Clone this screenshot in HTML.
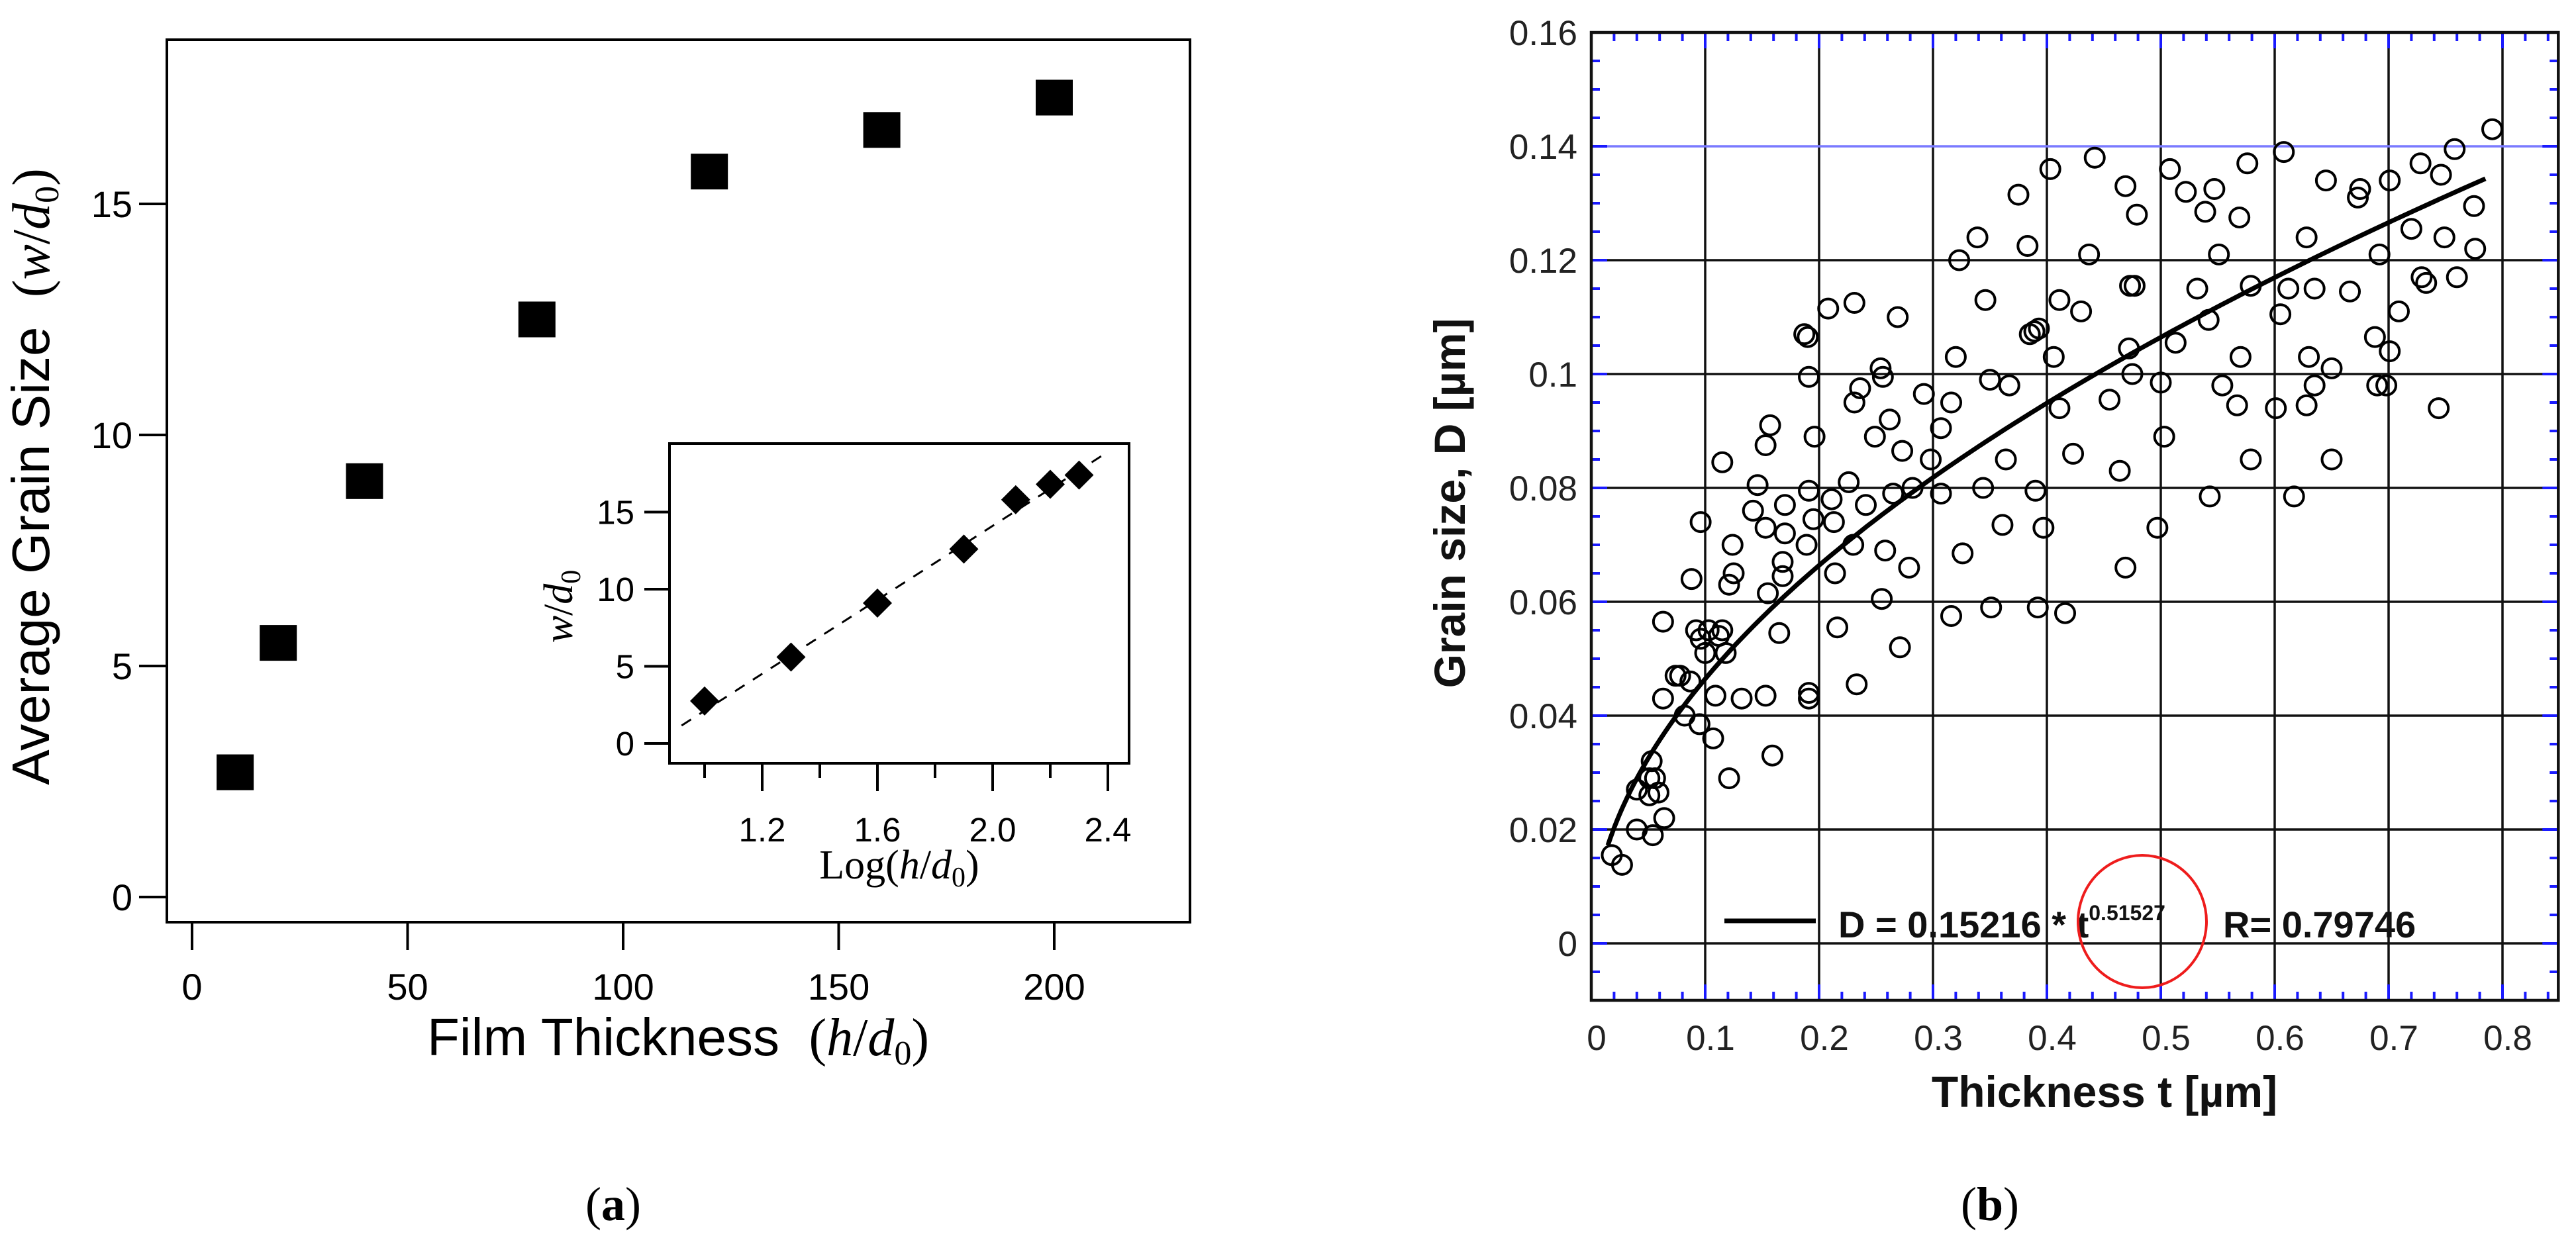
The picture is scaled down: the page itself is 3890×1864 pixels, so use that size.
<!DOCTYPE html>
<html><head><meta charset="utf-8"><style>
html,body{margin:0;padding:0;background:#fff;}
svg{display:block;}
</style></head><body>
<svg id="fig" width="3890" height="1864" viewBox="0 0 3890 1864" xmlns="http://www.w3.org/2000/svg">
<g id="panelA"></g>
<g id="inset"></g>
<g id="panelB"></g>
<text x="926" y="1843" text-anchor="middle" font-family="Liberation Serif, serif" font-size="72">(<tspan font-weight="bold">a</tspan>)</text>
<text x="3005" y="1843" text-anchor="middle" font-family="Liberation Serif, serif" font-size="72">(<tspan font-weight="bold">b</tspan>)</text>
</svg>
<script>
// ---------- Panel A data ----------
const aThickness = [10, 20, 40, 80, 120, 160, 200];
const aGrain = [2.7, 5.5, 9.0, 12.5, 15.7, 16.6, 17.3];
const aXTicks = [0, 50, 100, 150, 200];
const aYTicks = [0, 5, 10, 15];
// Inset
const inLog = [1.0, 1.3, 1.6, 1.9, 2.08, 2.2, 2.3];
const inGrain = [2.75, 5.6, 9.1, 12.6, 15.8, 16.8, 17.4];
const inXTicks = [1.0, 1.2, 1.4, 1.6, 1.8, 2.0, 2.2, 2.4];
const inXLabels = ['', '1.2', '', '1.6', '', '2.0', '', '2.4'];
const inYTicks = [0, 5, 10, 15];
const inFitX = [0.92, 2.4];
const inFitY = [1.16, 18.9];
// ---------- Panel B data ----------
const bXTicks = [0, 0.1, 0.2, 0.3, 0.4, 0.5, 0.6, 0.7, 0.8];
const bXLabels = ['0', '0.1', '0.2', '0.3', '0.4', '0.5', '0.6', '0.7', '0.8'];
const bYTicks = [0, 0.02, 0.04, 0.06, 0.08, 0.1, 0.12, 0.14, 0.16];
const bYLabels = ['0', '0.02', '0.04', '0.06', '0.08', '0.1', '0.12', '0.14', '0.16'];
const fitCoef = 0.15216;
const fitExp = 0.51527;
const fitRange = [0.0146, 0.785];
const bT = [.018,.027,.040,.040,.051,.053,.056,.059,.051,.054,.064,.063,.063,.074,.078,.082,.087,.088,.096,.092,.096,.100,.095,.103,.107,.109,.112,.115,.118,.121,.121,.124,.125,.115,.132,.142,.146,.153,.153,.157,.155,.153,.159,.165,.168,.170,.170,.168,.187,.190,.191,.189,.191,.195,.196,.191,.191,.208,.211,.213,.214,.216,.226,.230,.231,.231,.236,.233,.241,.249,.254,.256,.258,.255,.262,.265,.269,.273,.271,.279,.282,.292,.298,.307,.307,.316,.316,.320,.323,.326,.339,.344,.346,.350,.351,.361,.364,.367,.375,.383,.385,.389,.393,.390,.392,.397,.403,.406,.411,.411,.416,.423,.430,.437,.442,.455,.464,.469,.469,.472,.473,.477,.475,.479,.497,.500,.503,.508,.513,.522,.532,.539,.542,.543,.547,.551,.554,.567,.569,.570,.576,.579,.579,.601,.605,.608,.612,.617,.628,.628,.630,.635,.635,.645,.650,.650,.666,.673,.675,.688,.690,.692,.698,.701,.701,.709,.720,.728,.729,.733,.744,.746,.749,.758,.760,.775,.776,.791];
const bD = [.0155,.0138,.020,.027,.029,.032,.029,.0265,.026,.019,.022,.043,.0565,.047,.047,.040,.046,.064,.074,.055,.0535,.051,.0385,.055,.036,.0435,.054,.055,.051,.063,.029,.070,.065,.0845,.043,.076,.0805,.073,.0875,.091,.0615,.0435,.033,.0545,.067,.072,.077,.0645,.107,.1065,.0995,.070,.0795,.0745,.089,.044,.043,.1115,.078,.074,.065,.0555,.081,.070,.1125,.095,.0975,.0455,.077,.089,.101,.0995,.069,.0605,.092,.079,.110,.0865,.052,.066,.080,.0965,.085,.0905,.079,.095,.0575,.103,.120,.0685,.124,.080,.113,.099,.059,.0735,.085,.098,.1315,.1225,.107,.1075,.108,.0795,.059,.073,.136,.103,.113,.094,.058,.086,.111,.121,.138,.0955,.083,.133,.066,.1045,.1155,.1155,.100,.128,.073,.0985,.089,.136,.1055,.132,.115,.1285,.1095,.0785,.1325,.121,.098,.0945,.1275,.103,.137,.085,.1155,.094,.1105,.139,.115,.0785,.124,.0945,.103,.098,.115,.134,.101,.085,.1145,.131,.1325,.1065,.098,.121,.098,.134,.104,.111,.1255,.137,.117,.116,.094,.135,.124,.1395,.117,.1295,.122,.143];

const NS = 'http://www.w3.org/2000/svg';
function mk(parent, tag, attrs, text) {
  const e = document.createElementNS(NS, tag);
  for (const k in attrs) e.setAttribute(k, attrs[k]);
  if (text !== undefined) e.textContent = text;
  parent.appendChild(e);
  return e;
}
const SANS = 'Liberation Sans, Arial, sans-serif';
const SERIF = 'Liberation Serif, serif';

// ===== Panel A =====
const A = document.getElementById('panelA');
const ax = v => 290 + v * 6.51;
const ay = v => 1355 - v * 69.8;
let el = mk(A, 'rect', {x: 252, y: 60, width: 1545, height: 1333, fill: 'none', stroke: '#000', 'stroke-width': 4});


aXTicks.forEach(v => {
  let t = mk(A, 'line', {x1: ax(v), x2: ax(v), y1: 1393, y2: 1435, stroke: '#000', 'stroke-width': 4});
  
  
  let l = mk(A, 'text', {x: ax(v), y: 1510, 'text-anchor': 'middle', 'font-family': SANS, 'font-size': 56}, String(v));
  
  
});
aYTicks.forEach(v => {
  let t = mk(A, 'line', {x1: 210, x2: 252, y1: ay(v), y2: ay(v), stroke: '#000', 'stroke-width': 4});
  
  
  let l = mk(A, 'text', {x: 200, y: ay(v) + 20, 'text-anchor': 'end', 'font-family': SANS, 'font-size': 56}, String(v));
  
  
});
aThickness.forEach((v, i) => {
  let s = mk(A, 'rect', {x: ax(v) - 28, y: ay(aGrain[i]) - 27, width: 56, height: 54, fill: '#000'});
  
  
});
let yt = mk(A, 'text', {x: 0, y: 0, transform: 'translate(74,720) rotate(-90)', 'text-anchor': 'middle', 'font-family': SANS, 'font-size': 80});


yt.innerHTML = 'Average Grain Size\u00a0\u00a0<tspan font-family="Liberation Serif, serif">(<tspan font-style="italic">w</tspan>/<tspan font-style="italic">d</tspan><tspan font-size="52" dy="14">0</tspan><tspan dy="-14">)</tspan></tspan>';
let xt = mk(A, 'text', {x: 1024, y: 1594, 'text-anchor': 'middle', 'font-family': SANS, 'font-size': 80});


xt.innerHTML = 'Film Thickness\u00a0\u00a0<tspan font-family="Liberation Serif, serif">(<tspan font-style="italic">h</tspan>/<tspan font-style="italic">d</tspan><tspan font-size="52" dy="14">0</tspan><tspan dy="-14">)</tspan></tspan>';

// ===== Inset =====
const I = document.getElementById('inset');
const ix = v => 1064 + (v - 1.0) * 435;
const iy = v => 1123 - v * 23.3;
el = mk(I, 'rect', {x: 1011, y: 670, width: 694, height: 483, fill: '#fff', stroke: '#000', 'stroke-width': 4});


inXTicks.forEach((v, i) => {
  const major = inXLabels[i] !== '';
  let t = mk(I, 'line', {x1: ix(v), x2: ix(v), y1: 1153, y2: major ? 1195 : 1175, stroke: '#000', 'stroke-width': 4});
  
  
  if (major) {
    let l = mk(I, 'text', {x: ix(v), y: 1271, 'text-anchor': 'middle', 'font-family': SANS, 'font-size': 51}, inXLabels[i]);
    
    
  }
});
inYTicks.forEach(v => {
  let t = mk(I, 'line', {x1: 973, x2: 1011, y1: iy(v), y2: iy(v), stroke: '#000', 'stroke-width': 4});
  
  
  let l = mk(I, 'text', {x: 958, y: iy(v) + 18, 'text-anchor': 'end', 'font-family': SANS, 'font-size': 51}, String(v));
  
  
});
el = mk(I, 'line', {x1: ix(inFitX[0]), y1: iy(inFitY[0]), x2: ix(inFitX[1]), y2: iy(inFitY[1]), stroke: '#000', 'stroke-width': 3, 'stroke-dasharray': '17 15'});


inLog.forEach((v, i) => {
  const cx = ix(v), cy = iy(inGrain[i]), r = 22;
  let d = mk(I, 'polygon', {points: `${cx},${cy - r} ${cx + r},${cy} ${cx},${cy + r} ${cx - r},${cy}`, fill: '#000'});
  
  
});
let iyt = mk(I, 'text', {x: 0, y: 0, transform: 'translate(864,916) rotate(-90)', 'text-anchor': 'middle', 'font-family': SERIF, 'font-size': 62});


iyt.innerHTML = '<tspan font-style="italic">w</tspan>/<tspan font-style="italic">d</tspan><tspan font-size="42" dy="12">0</tspan>';
let ixt = mk(I, 'text', {x: 1358, y: 1327, 'text-anchor': 'middle', 'font-family': SERIF, 'font-size': 62});


ixt.innerHTML = 'Log(<tspan font-style="italic">h</tspan>/<tspan font-style="italic">d</tspan><tspan font-size="42" dy="12">0</tspan><tspan dy="-12">)</tspan>';

// ===== Panel B =====
const B = document.getElementById('panelB');
const bx = v => 2403 + v * 1720;
const by = v => 1425 - v * 8600;
const L = 2403, R = bx(0.849), T = by(0.16), Bt = by(-0.01);
bXTicks.forEach(v => {
  if (v === 0) return;
  let g = mk(B, 'line', {x1: bx(v), x2: bx(v), y1: T, y2: Bt, stroke: '#111', 'stroke-width': 3.5});
  
  
});
bYTicks.forEach(v => {
  if (v >= 0.159) return;
  const blue = Math.abs(v - 0.14) < 1e-6;
  let g = mk(B, 'line', {x1: L, x2: R, y1: by(v), y2: by(v), stroke: blue ? '#7a7aff' : '#111', 'stroke-width': 3.5});
  
  
});
for (let k = 0; k <= 42; k++) {
  const v = k * 0.02, x = bx(v);
  if (x > R - 2) break;
  const len = (k % 5 === 0) ? 24 : 13;
  let t1 = mk(B, 'line', {x1: x, x2: x, y1: Bt, y2: Bt - len, stroke: '#1a1aff', 'stroke-width': 4});
  
  
  let t2 = mk(B, 'line', {x1: x, x2: x, y1: T, y2: T + len, stroke: '#1a1aff', 'stroke-width': 4});
  
  
}
for (let k = -2; k <= 32; k++) {
  const v = k * 0.005, y = by(v);
  const len = (k % 4 === 0) ? 24 : 13;
  let t1 = mk(B, 'line', {x1: L, x2: L + len, y1: y, y2: y, stroke: '#1a1aff', 'stroke-width': 4});
  
  
  let t2 = mk(B, 'line', {x1: R, x2: R - len, y1: y, y2: y, stroke: '#1a1aff', 'stroke-width': 4});
  
  
}
el = mk(B, 'rect', {x: L, y: T, width: R - L, height: Bt - T, fill: 'none', stroke: '#111', 'stroke-width': 4.5});


bXTicks.forEach((v, i) => {
  let l = mk(B, 'text', {x: bx(v) + 8, y: 1586, 'text-anchor': 'middle', 'font-family': SANS, 'font-size': 53, fill: '#222'}, bXLabels[i]);
  
  
});
bYTicks.forEach((v, i) => {
  let l = mk(B, 'text', {x: 2382, y: by(v) + 19, 'text-anchor': 'end', 'font-family': SANS, 'font-size': 53, fill: '#222'}, bYLabels[i]);
  
  
});
bT.forEach((t, i) => {
  let c = mk(B, 'circle', {cx: bx(t), cy: by(bD[i]), r: 14.5, fill: 'none', stroke: '#000', 'stroke-width': 4});
  
  
});
let pts = [];
for (let k = 0; k <= 120; k++) {
  const t = fitRange[0] + (fitRange[1] - fitRange[0]) * Math.pow(k / 120, 1.6);
  pts.push(bx(t).toFixed(1) + ',' + by(fitCoef * Math.pow(t, fitExp)).toFixed(1));
}
el = mk(B, 'polyline', {points: pts.join(' '), fill: 'none', stroke: '#000', 'stroke-width': 7});


el = mk(B, 'line', {x1: 2604, x2: 2742, y1: 1391, y2: 1391, stroke: '#000', 'stroke-width': 7});


let lg = mk(B, 'text', {x: 2776, y: 1416, 'font-family': SANS, 'font-size': 56, 'font-weight': 'bold', fill: '#111'});


lg.innerHTML = 'D = 0.15216 * t<tspan font-size="32" dy="-26">0.51527</tspan>';
let rr = mk(B, 'text', {x: 3357, y: 1416, 'font-family': SANS, 'font-size': 56, 'font-weight': 'bold', fill: '#111'}, 'R= 0.79746');


el = mk(B, 'ellipse', {cx: 3235, cy: 1392, rx: 97, ry: 100, fill: 'none', stroke: '#ee1c1c', 'stroke-width': 4});


let bxt = mk(B, 'text', {x: 3178, y: 1672, 'text-anchor': 'middle', 'font-family': SANS, 'font-size': 66, 'font-weight': 'bold', fill: '#111'}, 'Thickness t [\u00b5m]');


let byt = mk(B, 'text', {x: 0, y: 0, transform: 'translate(2212,760) rotate(-90)', 'text-anchor': 'middle', 'font-family': SANS, 'font-size': 66, 'font-weight': 'bold', fill: '#111'}, 'Grain size, D [\u00b5m]');


</script>
</body></html>
